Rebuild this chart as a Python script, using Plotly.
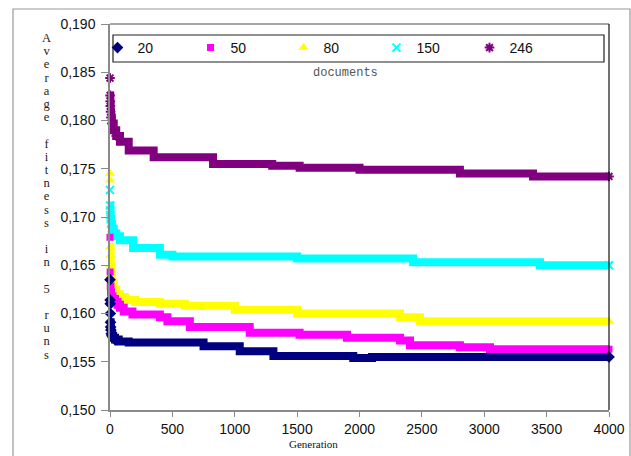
import plotly.graph_objects as go

# ---- data ----
gen20 = [0, 1, 2, 3, 4, 5, 7, 10, 15, 25, 40, 70, 150, 750, 1040, 1310, 1950, 2100, 4000]
fit20 = [0.1635, 0.1614, 0.1610, 0.1600, 0.1591, 0.1586, 0.1583, 0.1579, 0.1577, 0.1575,
         0.1573, 0.1571, 0.1570, 0.1566, 0.1561, 0.1556, 0.1554, 0.1555, 0.1555]

gen50 = [0, 1, 2, 4, 8, 20, 40, 60, 80, 110, 180, 400, 460, 640, 1120, 1520, 1900, 2325, 2405, 2805, 3046, 4000]
fit50 = [0.1679, 0.1643, 0.1628, 0.1622, 0.1618, 0.1615, 0.1612, 0.1609, 0.1606, 0.1602, 0.1599,
         0.1596, 0.1592, 0.1586, 0.1580, 0.1578, 0.1575, 0.1572, 0.1567, 0.1565, 0.1563, 0.1563]

gen80 = [0, 1, 2, 3, 5, 8, 16, 30, 50, 80, 120, 200, 400, 600, 1000, 1500, 2325, 2485, 4000]
fit80 = [0.1745, 0.1738, 0.1669, 0.1660, 0.1650, 0.1640, 0.1632, 0.1625, 0.1620, 0.1617,
         0.1614, 0.1612, 0.1610, 0.1608, 0.1604, 0.1600, 0.1596, 0.1592, 0.1592]

gen150 = [0, 1, 2, 3, 5, 8, 15, 30, 50, 80, 185, 400, 500, 1500, 2430, 3447, 4000]
fit150 = [0.1728, 0.1712, 0.1707, 0.1702, 0.1698, 0.1693, 0.1688, 0.1683, 0.1680, 0.1676,
          0.1668, 0.1661, 0.1659, 0.1657, 0.1653, 0.1650, 0.1650]

gen246 = [0, 1, 2, 3, 5, 8, 15, 30, 50, 80, 150, 350, 826, 1300, 1520, 2000, 2805, 3391, 4000]
fit246 = [0.1844, 0.1826, 0.1820, 0.1815, 0.1809, 0.1803, 0.1797, 0.1790, 0.1784, 0.1778,
          0.1769, 0.1762, 0.1755, 0.1753, 0.1751, 0.1749, 0.1745, 0.1742, 0.1742]

names = ["20", "50", "80", "150", "246"]
y_ticks = [0.150, 0.155, 0.160, 0.165, 0.170, 0.175, 0.180, 0.185, 0.190]
x_ticks = [0, 500, 1000, 1500, 2000, 2500, 3000, 3500, 4000]
y_title = "Average fitness in 5 runs"
x_title = "Generation"
legend_note = "documents"

# ---- style ----
styles = [
    ("#000080", "diamond", 9, 4),
    ("#FF00FF", "square", 7, 2),
    ("#FFFF00", "triangle-up", 9, 2),
    ("#00FFFF", "x-thin", 8, 1),
    ("#800080", "asterisk", 8, 1),
]
data = [(gen20, fit20), (gen50, fit50), (gen80, fit80), (gen150, fit150), (gen246, fit246)]

W, H = 631, 456
L, R, T, B = 110, 22, 24, 46
pw, ph = W - L - R, H - T - B

def px(xp):
    return (xp - L) / pw

def py(yp):
    return (H - B - yp) / ph

fig = go.Figure()
order = [4, 3, 2, 1, 0]
for i in order:
    g, v = data[i]
    color, sym, size, start = styles[i]
    open_sym = sym in ("x-thin", "asterisk")
    mk = dict(symbol=sym, size=size, color=color,
              line=dict(color=color, width=2 if open_sym else 0))
    fig.add_trace(go.Scatter(x=g[start:], y=v[start:], mode="lines",
                             line=dict(color=color, width=8, shape="hv"),
                             showlegend=False, cliponaxis=False, hoverinfo="skip"))
    idx = [j for j, gg in enumerate(g) if gg <= 60 or j == len(g) - 1]
    fig.add_trace(go.Scatter(x=[g[j] for j in idx], y=[v[j] for j in idx], mode="markers",
                             marker=mk, name=names[i], showlegend=False, cliponaxis=False))

for i in range(5):
    color, sym, size, start = styles[i]
    open_sym = sym in ("x-thin", "asterisk")
    fig.add_trace(go.Scatter(x=[None], y=[None], mode="markers", name=names[i],
                             marker=dict(symbol=sym, size=size, color=color,
                                         line=dict(color=color, width=2 if open_sym else 0)),
                             showlegend=True))

legend_w = 466
fig.update_layout(
    width=W, height=H,
    margin=dict(l=L, r=R, t=T, b=B),
    paper_bgcolor="white", plot_bgcolor="white",
    separators=",.",
    showlegend=True,
    legend=dict(orientation="h", x=px(97 + legend_w / 2), y=py(32),
                xanchor="center", yanchor="top",
                bgcolor="rgba(0,0,0,0)", borderwidth=0,
                entrywidth=48, entrywidthmode="pixels", itemwidth=30,
                font=dict(family="Liberation Sans, Arial", size=14, color="#111"),
                traceorder="normal"),
    xaxis=dict(range=[0, 4000], tickvals=x_ticks, ticktext=[str(t) for t in x_ticks],
               automargin=False,
               showgrid=False, zeroline=False, showline=True, linecolor="#8a8a8a", linewidth=1.5,
               ticks="outside", ticklen=5, tickcolor="#8a8a8a",
               tickfont=dict(family="Liberation Sans, Arial", size=14, color="#111")),
    yaxis=dict(range=[0.150, 0.190], tickvals=y_ticks, tickformat=".3f",
               automargin=False, ticklabelstandoff=3,
               showgrid=False, zeroline=False, showline=True, linecolor="#8a8a8a", linewidth=1.5,
               ticks="outside", ticklen=7, tickcolor="#8a8a8a",
               tickfont=dict(family="Liberation Sans, Arial", size=14, color="#111")),
)

shapes = [
    # outer frame
    dict(type="rect", xref="paper", yref="paper", x0=px(13), x1=px(630), y0=py(470), y1=py(9),
         line=dict(color="#9a9a9a", width=1.2)),
    # plot area top and right border
    dict(type="line", xref="paper", yref="paper", x0=0, x1=1, y0=1, y1=1,
         line=dict(color="#8a8a8a", width=1.5)),
    dict(type="line", xref="paper", yref="paper", x0=1, x1=1, y0=0, y1=1,
         line=dict(color="#111", width=1.2)),
    # legend box
    dict(type="rect", xref="paper", yref="paper", x0=px(113), x1=px(604), y0=py(62), y1=py(35),
         line=dict(color="#222", width=1.2)),
]
fig.update_layout(shapes=shapes)

letters = "<br>".join(
    ("<span style='font-size:12.5px'>%s</span>" % ch) if ch != " " else "\u00a0"
    for ch in y_title)
ann = [
    dict(text=legend_note, xref="paper", yref="paper", x=px(345), y=py(73), showarrow=False,
         font=dict(family="Liberation Mono, Courier New", size=12, color="#555"),
         xanchor="center", yanchor="middle"),
    dict(text=x_title, xref="paper", yref="paper", x=px(313), y=py(444), showarrow=False,
         font=dict(family="Liberation Serif, Times New Roman", size=11, color="#111"),
         xanchor="center", yanchor="middle"),
    dict(text=letters, xref="paper", yref="paper", x=px(46), y=py(196), showarrow=False,
         xanchor="center", yanchor="middle", align="center",
         font=dict(family="Liberation Serif, Times New Roman", size=10.15, color="#222")),
]
fig.update_layout(annotations=ann)

fig.write_html("out.html", config={"displayModeBar": False},
               post_script="document.body.style.margin='0';")
